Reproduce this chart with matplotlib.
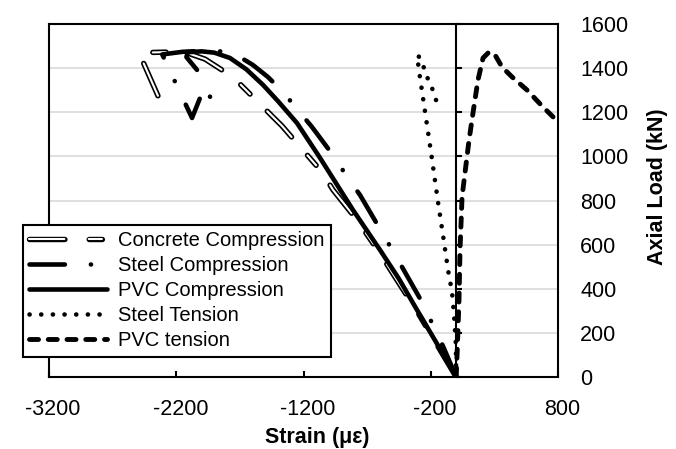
import matplotlib
matplotlib.use("Agg")
import matplotlib.pyplot as plt
import matplotlib.patheffects as pe
from matplotlib.transforms import ScaledTranslation

plt.rcParams['font.family'] = ['Liberation Sans', 'DejaVu Sans']
plt.rcParams['lines.scale_dashes'] = False

# ---------------- data ----------------
concrete_strain = [0, -300, -599, -780, -968, -1055, -1267, -1369, -1597, -1715, -1850, -1974,
                   -2100, -2250, -2400, -2490, -2312]
concrete_load = [0, 290, 560, 712, 848, 929, 1070, 1138, 1269, 1337, 1395, 1441,
                 1466, 1473, 1471, 1466, 1233]

steel_c_strain = [0, -100, -198, -269, -426, -512, -599, -756, -858, -952, -1133, -1251, -1361,
                  -1480, -1597, -1738, -1850, -2000, -2150, -2310, -2076, -1975, -1856]
steel_c_load = [0, 135, 254, 340, 499, 585, 671, 825, 907, 993, 1133, 1215, 1292,
                1360, 1414, 1464, 1476, 1478, 1474, 1462, 1174, 1320, 1174]

pvc_c_strain = [0, -60, -150, -308, -450, -599, -811, -1070, -1251, -1400, -1518, -1650, -1778,
                -1900, -2000, -2110, -2120, -2037]
pvc_c_load = [0, 60, 150, 304, 445, 576, 757, 993, 1151, 1250, 1324, 1395, 1446,
              1470, 1476, 1472, 1450, 1392]

steel_t_strain = [0, -3, -17, -33, -64, -104, -143, -193, -245, -298, -300, -259, -229, -190, -135]
steel_t_load = [0, 150, 281, 385, 485, 644, 793, 999, 1203, 1410, 1460, 1410, 1360, 1310, 1215]

pvc_t_strain = [0, 10, 22, 30, 46, 69, 101, 132, 171, 211, 258, 305, 360, 439, 556, 682, 761]
pvc_t_load = [0, 150, 349, 576, 816, 925, 1074, 1197, 1346, 1446, 1473, 1460, 1405, 1360,
              1301, 1224, 1179]

labels = ["Concrete Compression", "Steel Compression", "PVC Compression",
          "Steel Tension", "PVC tension"]

x_ticks = [-3200, -2200, -1200, -200, 800]
y_ticks = [0, 200, 400, 600, 800, 1000, 1200, 1400, 1600]

# ---------------- figure ----------------
fig = plt.figure(figsize=(6.76, 4.49), dpi=100)
ax = fig.add_axes([49 / 676, 72 / 449, 509 / 676, 353 / 449])
ax.set_xlim(-3200, 800)
ax.set_ylim(0, 1600)

FS = 15.5
LFS = 14.5
round_kw = dict(solid_capstyle='round', dash_capstyle='round',
                solid_joinstyle='round', dash_joinstyle='round', color='black')

# concrete: outlined double line
l_conc, = ax.plot(concrete_strain, concrete_load, lw=1.5, color='white',
                  dashes=(25.5, 17.5, 9.5, 17.5), solid_capstyle='round', dash_capstyle='round',
                  dash_joinstyle='round', label=labels[0], zorder=3,
                  path_effects=[pe.Stroke(linewidth=3.9, foreground='black'), pe.Normal()])
l_sc, = ax.plot(steel_c_strain, steel_c_load, lw=3.3, dashes=(25.5, 18.7, 0.1, 18.7),
                label=labels[1], zorder=4, **round_kw)
l_pc, = ax.plot(pvc_c_strain, pvc_c_load, lw=3.3, label=labels[2], zorder=4, **round_kw)
l_st, = ax.plot(steel_t_strain, steel_t_load, lw=3.3, dashes=(0.1, 8.3),
                label=labels[3], zorder=4, **round_kw)
l_pt, = ax.plot(pvc_t_strain, pvc_t_load, lw=3.5, dashes=(6.5, 7.0),
                label=labels[4], zorder=4, **round_kw)

# grid
ax.set_yticks(y_ticks)
ax.yaxis.grid(True, color='#d9d9d9', lw=1.2)
ax.set_axisbelow(True)

# spines: vertical axis at strain 0
for s in ['top', 'right', 'bottom', 'left']:
    ax.spines[s].set_linewidth(1.5)
ax.spines['left'].set_position(('data', 0))
ax.spines['left'].set_zorder(3.5)

ax.set_xticks(x_ticks)
ax.set_xticklabels([str(v) for v in x_ticks])
ax.tick_params(axis='x', direction='in', length=4.5, width=1.5, labelsize=FS, pad=16,
               top=False)
ax.tick_params(axis='y', direction='in', length=4.5, width=1.5, labelleft=False,
               right=False)
shift = ScaledTranslation(4 / 100, 0, fig.dpi_scale_trans)
for lab in ax.get_xticklabels():
    lab.set_transform(lab.get_transform() + shift)

# right-hand labels via twin axis; its left spine forms the outer frame edge
ax2 = ax.twinx()
ax2.set_ylim(0, 1600)
ax2.set_yticks(y_ticks)
ax2.set_yticklabels([str(v) for v in y_ticks])
ax2.tick_params(axis='y', length=0, labelsize=FS, pad=16)
for s in ['top', 'right', 'bottom']:
    ax2.spines[s].set_visible(False)
ax2.spines['left'].set_linewidth(1.5)

# axis titles
fig.text(317 / 676, 1 - 437 / 449, "Strain (\u03bc\u03b5)", ha='center', va='center',
         fontsize=FS, fontweight='bold')
fig.text(658 / 676, 1 - 187 / 449, "Axial Load (kN)", ha='center', va='center',
         rotation=90, fontsize=FS, fontweight='bold')

leg = ax2.legend(handles=[l_conc, l_sc, l_pc, l_st, l_pt], loc='lower left',
                 bbox_to_anchor=(-0.051, 0.057), borderaxespad=0, fontsize=LFS,
                 handlelength=3.85, handletextpad=0.55, labelspacing=0.3,
                 borderpad=0.32, fancybox=False, framealpha=1, edgecolor='black')
leg.get_frame().set_linewidth(1.5)

fig.savefig("out.png", dpi=100)
